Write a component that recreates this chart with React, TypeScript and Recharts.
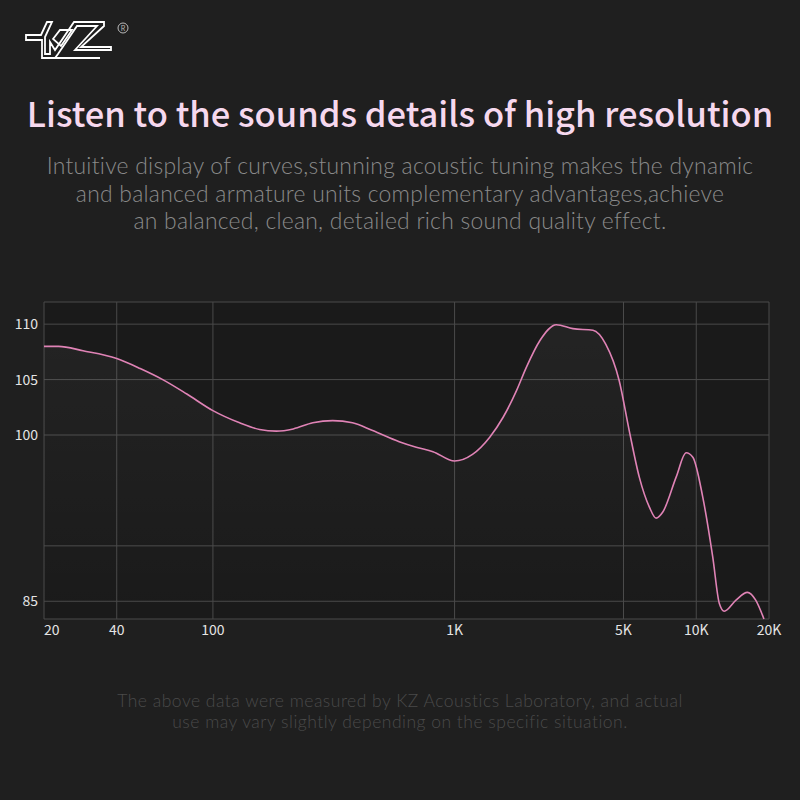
import React from "react"
import { Area, CartesianGrid, ComposedChart, XAxis, YAxis } from "recharts"

// frequency response
const freqs = [
  20, 23, 29, 40, 50, 62, 78, 100, 129, 156, 183, 215, 259, 313, 378, 458, 590, 694, 814, 1000, 1186, 1398, 1588,
  1804, 1981, 2252, 2636, 3088, 3738, 4220, 4800, 5280, 5812, 6398, 6820, 7270, 8256, 9080, 9680, 10640, 11700,
  12460, 13060, 14600, 16280, 17620, 19060,
]
const spl = [
  108.0, 108.0, 107.6, 106.9, 106.0, 105.0, 103.7, 102.2, 101.1, 100.5, 100.35, 100.55, 101.1, 101.3, 101.1, 100.4,
  99.4, 98.9, 98.5, 97.65, 98.25, 99.8, 101.6, 104.0, 106.1, 108.5, 109.95, 109.6, 109.45, 108.2, 104.9, 100.4, 96.2,
  93.5, 92.5, 93.05, 96.2, 98.4, 98.0, 94.4, 89.0, 84.8, 84.1, 85.1, 85.8, 85.1, 83.4,
]

const xTicks = [20, 40, 100, 1000, 5000, 10000, 20000]
const xLabels = ["20", "40", "100", "1K", "5K", "10K", "20K"]
const yTicks = [83.4, 85, 90, 100, 105, 110, 112]
const yLabels = ["", "85", "", "100", "105", "110", ""]

const title = "Listen to the sounds details of high resolution"
const subtitle = [
  "Intuitive display of curves,stunning acoustic tuning makes the dynamic",
  "and balanced armature units complementary advantages,achieve",
  "an balanced, clean, detailed rich sound quality effect.",
]
const footnote = [
  "The above data were measured by KZ Acoustics Laboratory, and actual",
  "use may vary slightly depending on the specific situation.",
]

const data = freqs.map((f, i) => ({ f, db: spl[i] }))

const FONT = '"Noto Sans CJK JP", "Noto Sans", sans-serif'
const LIGHT = 'Lato, "Noto Sans", sans-serif'

const XTick = ({ x, y, payload }: any) => {
  const i = xTicks.indexOf(payload.value)
  return (
    <text x={x} y={y + 14} textAnchor={i === 0 ? "start" : "middle"} fill="#e4e4e4" fontSize={14} fontFamily={FONT}>
      {xLabels[i]}
    </text>
  )
}

const YTick = ({ y, payload }: any) => {
  const i = yTicks.indexOf(payload.value)
  return (
    <text x={38} y={y + 5} textAnchor="end" fill="#e4e4e4" fontSize={14} fontFamily={FONT}>
      {yLabels[i]}
    </text>
  )
}

const Logo = () => (
  <svg width={140} height={70} style={{ position: "absolute", left: 0, top: 0 }}>
    <g fill="none" stroke="#fff" strokeWidth={1.8} strokeLinejoin="miter">
      <path d="M26,35 L41,35 L47,22 L52,22 L45,37 L45,54 L50,54 L50,42 L55,50 L74,22 L104,22 L104,26 L81,47 L111,47 L111,50 L75,50 L97,26 L77,26 L58,54 L55,58 L42,58 L42,40 L26,40 Z" />
      <path d="M53,39 L60,30 L72,30 L61,46 Z" />
      <line x1={55} y1={58} x2={100} y2={58} />
    </g>
    <circle cx={123} cy={28} r={5} fill="none" stroke="#bbb" strokeWidth={1} />
    <text x={123} y={31} textAnchor="middle" fontSize={7} fill="#bbb" fontFamily={FONT}>
      R
    </text>
  </svg>
)

export default function App() {
  return (
    <div
      style={{
        position: "absolute",
        left: 0,
        top: 0,
        width: 800,
        height: 800,
        background: "#1f1f1f",
        overflow: "hidden",
        fontFamily: FONT,
      }}
    >
      <Logo />
      <div
        style={{
          position: "absolute",
          top: 88,
          width: 800,
          textAlign: "center",
          color: "#f6d8ee",
          fontSize: 34.5,
          fontWeight: 500,
          lineHeight: "48px",
          whiteSpace: "nowrap",
        }}
      >
        {title}
      </div>
      <div
        style={{
          position: "absolute",
          top: 152,
          width: 800,
          textAlign: "center",
          color: "#8a8a8a",
          fontFamily: LIGHT,
          fontSize: 22.9,
          fontWeight: 300,
          letterSpacing: 0.25,
          lineHeight: "27.5px",
          whiteSpace: "nowrap",
        }}
      >
        {subtitle.map((s) => (
          <div key={s}>{s}</div>
        ))}
      </div>
      <div style={{ position: "absolute", top: 0, left: 0 }}>
        <ComposedChart width={800} height={800} data={data} margin={{ top: 302, right: 31, left: 4, bottom: 151 }}>
          <defs>
            <linearGradient id="glow" x1="0" y1="0" x2="0" y2="1">
              <stop offset="0%" stopColor="#ffffff" stopOpacity={0.07} />
              <stop offset="100%" stopColor="#ffffff" stopOpacity={0.0} />
            </linearGradient>
          </defs>
          <CartesianGrid stroke="#4a4a4a" fill="#1a1a1a" />
          <XAxis
            dataKey="f"
            type="number"
            scale="log"
            domain={[20, 20000]}
            ticks={xTicks}
            tick={<XTick />}
            tickLine={false}
            axisLine={false}
            tickSize={0}
            height={30}
            interval={0}
          />
          <YAxis
            type="number"
            domain={[83.4, 112]}
            ticks={yTicks}
            tick={<YTick />}
            tickLine={false}
            axisLine={false}
            width={40}
            interval={0}
          />
          <Area
            dataKey="db"
            type="monotone"
            stroke="#e083b6"
            strokeWidth={1.6}
            fill="url(#glow)"
            isAnimationActive={false}
            dot={false}
            activeDot={false}
          />
        </ComposedChart>
      </div>
      <div
        style={{
          position: "absolute",
          top: 690,
          width: 800,
          textAlign: "center",
          color: "#4a4a4a",
          fontFamily: LIGHT,
          fontSize: 17.5,
          fontWeight: 300,
          letterSpacing: 0.5,
          lineHeight: "21px",
          whiteSpace: "nowrap",
        }}
      >
        {footnote.map((s) => (
          <div key={s}>{s}</div>
        ))}
      </div>
    </div>
  )
}
